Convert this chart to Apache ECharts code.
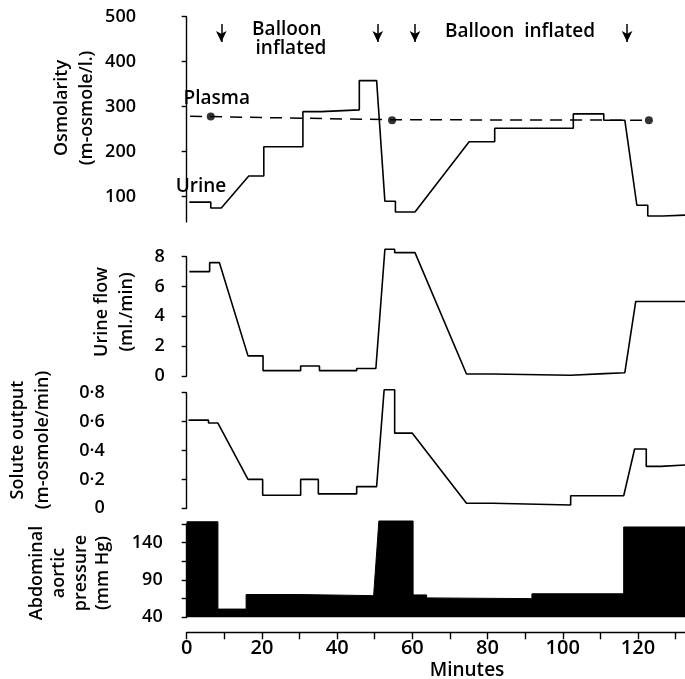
<!DOCTYPE html>
<html>
<head>
<meta charset="utf-8">
<script src="https://cdn.jsdelivr.net/npm/echarts@6/dist/echarts.min.js"></script>
<style>
  html, body { margin: 0; padding: 0; background: #fff; }
  #chart { width: 685px; height: 679px; }
</style>
</head>
<body>
<div id="chart"></div>
<script>
// time in minutes
const urineOsmT = [0.7, 6.4, 6.4, 9.2, 16.5, 20.5, 20.5, 30.9, 30.9, 35.8, 35.8, 45.9, 45.9, 50.5, 52.7, 55.5, 55.5, 60.7, 75.1, 81.9, 81.9, 102.8, 102.8, 110.9, 110.9, 116.5, 119.7, 122.6, 122.6, 126.6, 126.6, 132.5]
const urineOsmV = [88, 88, 75, 75, 146, 146, 211, 211, 289, 289, 293, 293, 358, 358, 90, 90, 66, 66, 222, 222, 252, 252, 284, 284, 270, 270, 81, 81, 57, 57, 59, 59]

const plasmaLineT = [0.9, 6.4, 54.6, 123.3]
const plasmaLineV = [279, 278, 271, 270]
const plasmaDotT = [6.4, 54.6, 122.9]
const plasmaDotV = [278, 270, 270]

const flowT = [0.7, 6.1, 6.1, 8.7, 16.3, 20.3, 20.3, 30.3, 30.3, 35.3, 35.3, 45.2, 45.2, 50.3, 52.7, 55.3, 55.3, 60.7, 74.4, 81.4, 81.4, 102.1, 102.1, 111.1, 111.1, 116.5, 119.4, 132.5]
const flowV = [7.0, 7.0, 7.6, 7.6, 1.35, 1.35, 0.36, 0.36, 0.67, 0.67, 0.36, 0.36, 0.5, 0.5, 8.5, 8.5, 8.27, 8.27, 0.13, 0.13, 0.05, 0.05, 0.16, 0.16, 0.22, 0.22, 5.0, 5.0]

const soluteT = [0.5, 5.8, 5.8, 8.3, 16.3, 20.2, 20.2, 30.3, 30.3, 35.0, 35.0, 45.2, 45.2, 50.5, 52.5, 55.3, 55.3, 60.0, 74.4, 81.4, 81.4, 102.1, 102.1, 116.2, 119.1, 122.2, 122.2, 126.1, 126.1, 132.5]
const soluteV = [0.61, 0.61, 0.59, 0.59, 0.2, 0.2, 0.09, 0.09, 0.2, 0.2, 0.1, 0.1, 0.15, 0.15, 0.82, 0.82, 0.52, 0.52, 0.035, 0.035, 0.023, 0.023, 0.087, 0.087, 0.41, 0.41, 0.29, 0.29, 0.30, 0.30]

const pressureT = [0, 8.3, 8.3, 15.8, 15.8, 30.1, 30.1, 49.7, 51.1, 60.2, 60.2, 63.8, 63.8, 91.8, 91.8, 116.2, 116.2, 132.5]
const pressureV = [168, 168, 51, 51, 70.5, 70.5, 69, 69, 169, 169, 70, 70, 66, 65, 71.5, 71.5, 161, 161]

// balloon inflated / deflated markers
const arrowT = [9.2, 50.8, 60.7, 117.1]

const minuteTicks = [0, 10, 20, 30, 40, 50, 60, 70, 80, 90, 100, 110, 120, 130]
const minuteLabels = [0, 20, 40, 60, 80, 100, 120]
const osmTicks = [100, 200, 300, 400, 500]
const flowTicks = [0, 2, 4, 6, 8]
const soluteTicks = [0, 0.2, 0.4, 0.6, 0.8]
const pressureTicks = [40, 65, 90, 115, 140, 165]
const pressureLabels = [40, 90, 140]

const FONT = "'Open Sans', sans-serif"
const WEIGHT = 600
const INK = '#000'

const zip = (t, v) => t.map((x, i) => [x, v[i]])

const grids = [
  { top: 16.7, height: 205.2 },
  { top: 256.7, height: 119.3 },
  { top: 392.7, height: 115.6 },
  { top: 524, height: 93.3 },
].map((g) => ({ left: 186.7, right: 0, top: g.top, height: g.height }))

function xAxis(gridIndex, visible) {
  return {
    type: 'value',
    gridIndex,
    min: 0,
    max: 132.5,
    show: visible,
    offset: visible ? 15 : 0,
    axisLine: { show: true, lineStyle: { color: INK, width: 1.4 } },
    axisTick: { show: true, length: 7, inside: false, customValues: minuteTicks, lineStyle: { color: INK, width: 1.4 } },
    axisLabel: { customValues: minuteLabels, color: INK, fontFamily: FONT, fontWeight: WEIGHT, fontSize: 20, margin: 6 },
    splitLine: { show: false },
  }
}

function yAxis(gridIndex, min, max, offset, ticks, labels, fmt) {
  return {
    type: 'value',
    gridIndex,
    min,
    max,
    offset,
    axisLine: { show: true, lineStyle: { color: INK, width: 1.4 } },
    axisTick: { show: true, length: 5, customValues: ticks, lineStyle: { color: INK, width: 1.4 } },
    axisLabel: {
      customValues: labels,
      color: INK,
      fontFamily: FONT,
      fontWeight: WEIGHT,
      fontSize: 18,
      margin: 8,
      formatter: fmt || ((v) => String(v)),
    },
    splitLine: { show: false },
  }
}

function trace(name, gridIndex, data, extra) {
  return Object.assign({
    name,
    type: 'line',
    xAxisIndex: gridIndex,
    yAxisIndex: gridIndex,
    data,
    clip: false,
    showSymbol: false,
    symbol: 'none',
    lineStyle: { color: INK, width: 1.6 },
    silent: true,
  }, extra || {})
}

function vtext(x, y, text, lh) {
  return {
    type: 'text',
    x,
    y,
    rotation: Math.PI / 2,
    style: {
      text,
      font: `${WEIGHT} 18px ${FONT}`,
      fill: INK,
      textAlign: 'center',
      textVerticalAlign: 'middle',
      align: 'center',
      verticalAlign: 'middle',
      lineHeight: lh,
    },
  }
}

function htext(x, y, text, size) {
  return {
    type: 'text',
    x,
    y,
    style: {
      text,
      font: `${WEIGHT} ${size}px ${FONT}`,
      fill: INK,
      textAlign: 'center',
      textVerticalAlign: 'middle',
      align: 'center',
      verticalAlign: 'middle',
    },
  }
}

const chart = echarts.init(document.getElementById('chart'), null, { renderer: 'canvas' })

chart.setOption({
  animation: false,
  backgroundColor: '#fff',
  grid: grids,
  xAxis: [xAxis(0, false), xAxis(1, false), xAxis(2, false), xAxis(3, true)],
  yAxis: [
    yAxis(0, 44, 500, 42.7, osmTicks, osmTicks),
    yAxis(1, 0, 8, 14, flowTicks, flowTicks),
    yAxis(2, 0, 0.8, 74, soluteTicks, soluteTicks, (v) => String(Math.round(v * 10) / 10).replace('.', '·')),
    yAxis(3, 40, 165, 16, pressureTicks, pressureLabels),
  ],
  series: [
    trace('Urine', 0, zip(urineOsmT, urineOsmV), {
      markLine: {
        silent: true,
        symbol: ['none', 'arrow'],
        symbolSize: [8, 11],
        label: { show: false },
        lineStyle: { color: INK, width: 1.5, type: 'solid' },
        data: arrowT.map((t) => [{ coord: [t, 484] }, { coord: [t, 444] }]),
      },
    }),
    trace('Plasma', 0, zip(plasmaLineT, plasmaLineV), {
      lineStyle: { color: INK, width: 1.5, type: [12, 8] },
    }),
    {
      name: 'Plasma samples',
      type: 'scatter',
      xAxisIndex: 0,
      yAxisIndex: 0,
      data: zip(plasmaDotT, plasmaDotV),
      symbol: 'circle',
      symbolSize: 8,
      itemStyle: { color: INK },
      silent: true,
    },
    trace('Urine flow', 1, zip(flowT, flowV)),
    trace('Solute output', 2, zip(soluteT, soluteV)),
    trace('Abdominal aortic pressure', 3, zip(pressureT, pressureV), {
      lineStyle: { color: INK, width: 1 },
      areaStyle: { color: INK, opacity: 1, origin: 'start' },
    }),
  ],
  graphic: [
    vtext(74.5, 108, 'Osmolarity\n(m-osmole/l.)', 25),
    vtext(114, 312, 'Urine flow\n(ml./min)', 25),
    vtext(30, 440, 'Solute output\n(m-osmole/min)', 25),
    vtext(70, 573, 'Abdominal\naortic\npressure\n(mm Hg)', 22),
    htext(286.8, 29.3, 'Balloon', 19),
    htext(291, 48.3, 'inflated', 19),
    htext(520, 31.7, 'Balloon  inflated', 19),
    htext(216.7, 98.3, 'Plasma', 19),
    htext(201, 187, 'Urine', 19),
    htext(467, 671, 'Minutes', 19),
  ],
})
</script>
</body>
</html>
